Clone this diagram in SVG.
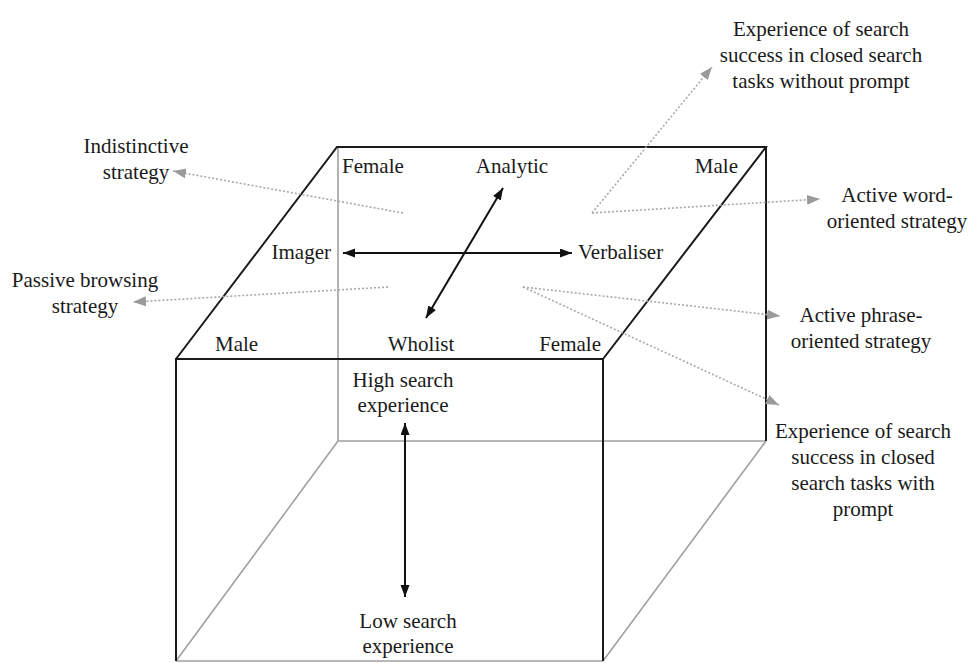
<svg xmlns="http://www.w3.org/2000/svg" width="971" height="663" viewBox="0 0 971 663">
  <style>
    text { font-family: "Liberation Serif", "Times New Roman", serif; font-size: 21px; fill: #1a1a1a; }
    .mid { text-anchor: middle; }
    .end { text-anchor: end; }
    .edge { stroke: #1a1a1a; stroke-width: 2; fill: none; }
    .hidden { stroke: #a0a0a0; stroke-width: 1.6; fill: none; }
    .axis { stroke: #111; stroke-width: 2; fill: none; marker-start: url(#blk); marker-end: url(#blk); }
    .link { stroke: #a8a8a8; stroke-width: 1.6; stroke-dasharray: 2 2; fill: none; marker-end: url(#gry); }
  </style>
  <defs>
    <marker id="blk" markerUnits="userSpaceOnUse" markerWidth="13" markerHeight="10" refX="12" refY="4.5" orient="auto-start-reverse">
      <path d="M0,0 L12,4.5 L0,9 z" fill="#111"/>
    </marker>
    <marker id="gry" markerUnits="userSpaceOnUse" markerWidth="14" markerHeight="11" refX="13" refY="5" orient="auto">
      <path d="M0,0 L13,5 L0,10 z" fill="#9a9a9a"/>
    </marker>
  </defs>
  <rect width="971" height="663" fill="#fff"/>

  <!-- cube: hidden (back) edges -->
  <g id="cube">
    <path class="hidden" d="M338,148 V441 H766"/>
    <path class="hidden" d="M338,441 L176,661"/>
    <path class="hidden" d="M766,441 L603,661"/>
    <path class="hidden" d="M176,661 H603"/>
    <!-- visible edges -->
    <path class="edge" d="M176,359 L337,147 H766 L603,359"/>
    <path class="edge" d="M766,147 V441"/>
    <path class="edge" d="M176,661 V359 H603 V661"/>
  </g>

  <!-- axes and dotted pointers -->
  <g id="connectors">
    <line class="axis" x1="343" y1="253" x2="572" y2="253"/>
    <line class="axis" x1="426" y1="318" x2="503" y2="188"/>
    <line class="axis" x1="405" y1="423" x2="405" y2="597"/>
    <line class="link" x1="403" y1="213" x2="173" y2="171"/>
    <line class="link" x1="388" y1="287" x2="133" y2="302"/>
    <line class="link" x1="592" y1="213" x2="712" y2="67"/>
    <line class="link" x1="592" y1="213" x2="820" y2="199"/>
    <line class="link" x1="523" y1="287" x2="780" y2="316"/>
    <line class="link" x1="523" y1="287" x2="779" y2="405"/>
  </g>

  <!-- labels on the cube -->
  <g id="top-face-labels">
    <text x="342" y="173">Female</text>
    <text class="mid" x="512" y="173">Analytic</text>
    <text class="end" x="738" y="173">Male</text>
    <text class="end" x="331" y="259">Imager</text>
    <text x="578" y="259">Verbaliser</text>
    <text x="215" y="351">Male</text>
    <text class="mid" x="421" y="351">Wholist</text>
    <text class="end" x="601" y="351">Female</text>
  </g>
  <g id="high-exp">
    <text class="mid" x="403" y="387">High search</text>
    <text class="mid" x="403" y="412">experience</text>
  </g>
  <g id="low-exp">
    <text class="mid" x="408" y="628">Low search</text>
    <text class="mid" x="408" y="653">experience</text>
  </g>

  <!-- strategy labels -->
  <g id="indistinctive">
    <text class="mid" x="136" y="153">Indistinctive</text>
    <text class="mid" x="136" y="179">strategy</text>
  </g>
  <g id="passive">
    <text class="mid" x="85" y="287">Passive browsing</text>
    <text class="mid" x="85" y="313">strategy</text>
  </g>
  <g id="success-no-prompt">
    <text class="mid" x="821" y="36">Experience of search</text>
    <text class="mid" x="821" y="62">success in closed search</text>
    <text class="mid" x="821" y="88">tasks without prompt</text>
  </g>
  <g id="active-word">
    <text class="mid" x="897" y="202">Active word-</text>
    <text class="mid" x="897" y="228">oriented strategy</text>
  </g>
  <g id="active-phrase">
    <text class="mid" x="861" y="322">Active phrase-</text>
    <text class="mid" x="861" y="348">oriented strategy</text>
  </g>
  <g id="success-prompt">
    <text class="mid" x="863" y="438">Experience of search</text>
    <text class="mid" x="863" y="464">success in closed</text>
    <text class="mid" x="863" y="490">search tasks with</text>
    <text class="mid" x="863" y="516">prompt</text>
  </g>
</svg>
